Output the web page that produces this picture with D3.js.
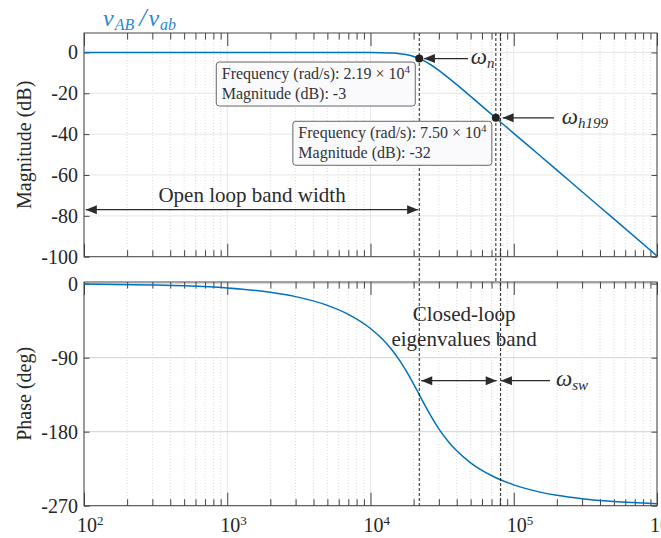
<!DOCTYPE html>
<html>
<head>
<meta charset="utf-8">
<script src="https://d3js.org/d3.v7.min.js"></script>
<title>Bode plot vAB / vab</title>
<style>
  body { margin: 0; background: #fff; }
  svg { display: block; font-family: "Liberation Serif", "Times New Roman", serif; }
  .tick line { stroke: #444; }
  .tick text { fill: #262626; font-size: 20px; font-family: "Liberation Serif", "Times New Roman", serif; }
  .domain { display: none; }
  .axis-label { fill: #262626; font-size: 20px; }
  .tip text { fill: #333; font-size: 16px; }
  .note { fill: #2b2b2b; font-size: 21px; }
  .omega { fill: #2b2b2b; font-style: italic; }
</style>
</head>
<body>
<svg width="661" height="538"></svg>
<script>
// values
const freqs    = [1e2, 3e2, 5e2, 1e3, 2e3, 3e3, 5e3, 7e3, 1e4, 1.2e4, 1.4e4, 1.6e4, 1.8e4, 2e4, 2.19e4, 2.4e4, 2.6e4, 3e4, 3.5e4, 4e4, 5e4, 6e4, 7.5e4, 1e5, 1.5e5, 2e5, 3e5, 5e5, 1e6];
const magDb    = [0, 0, 0, 0, 0, 0, 0, -0.01, -0.04, -0.12, -0.29, -0.61, -1.17, -1.99, -3.0, -4.37, -5.8, -8.8, -12.5, -15.8, -21.5, -26.3, -32.1, -39.6, -50.1, -57.6, -68.2, -81.5, -99.6];
const phaseDeg = [-0.5, -1.6, -2.6, -5.2, -10.5, -15.8, -26.4, -37.3, -54.5, -66.8, -79.8, -93.6, -107.9, -122.1, -135, -148, -158.9, -176.5, -192.2, -203.3, -217.9, -227.1, -236, -244.7, -253.2, -257.4, -261.6, -265, -267.5];

const magTicks = [0, -20, -40, -60, -80, -100];
const phaseTicks = [0, -90, -180, -270];
const decades = [1e2, 1e3, 1e4, 1e5, 1e6];
const decadeExp = [2, 3, 4, 5, 6];

// data tips
const tipFreqs = [2.19e4, 7.5e4];
const tipMags = [-3, -32];
const tipFreqText = ['2.19 \u00d7 10', '7.50 \u00d7 10'];

// marker frequencies: omega_n, omega_h199, omega_sw
const markerFreqs = [2.19e4, 7.5e4, 8.1e4];

const svg = d3.select('svg');
const left = 84, right = 657;
const magTop = 33, magBottom = 256.7;
const phTop = 282, phBottom = 505.7;

const x = d3.scaleLog().domain([1e2, 1e6]).range([left, right]);
const yMag = d3.scaleLinear().domain([-100, 9.5]).range([magBottom, magTop]);
const yPh = d3.scaleLinear().domain([-270, 2]).range([phBottom, phTop]);

const minor = [];
for (let k = 2; k < 6; k++) for (let m = 2; m < 10; m++) minor.push(m * Math.pow(10, k));

function panel(y, ticks, top, bottom, gridColor, label, id) {
  const g = svg.append('g');
  // grid
  g.selectAll('.vmin').data(minor).enter().append('line')
    .attr('x1', d => x(d)).attr('x2', d => x(d)).attr('y1', top).attr('y2', bottom)
    .attr('stroke', '#dadada').attr('stroke-dasharray', '1,2');
  g.selectAll('.vmaj').data(decades).enter().append('line')
    .attr('x1', d => x(d)).attr('x2', d => x(d)).attr('y1', top).attr('y2', bottom)
    .attr('stroke', '#e6e6e6');
  g.selectAll('.hmaj').data(ticks).enter().append('line')
    .attr('x1', left).attr('x2', right).attr('y1', d => y(d)).attr('y2', d => y(d))
    .attr('stroke', gridColor);

  // axes, ticks pointing inward
  g.append('g').attr('transform', `translate(0,${bottom})`)
    .call(d3.axisBottom(x).tickValues(minor).tickSize(-6.5).tickFormat(''));
  g.append('g').attr('transform', `translate(0,${bottom})`)
    .call(d3.axisBottom(x).tickValues(decades).tickSize(-13).tickFormat(''));
  g.append('g').attr('transform', `translate(0,${top})`)
    .call(d3.axisTop(x).tickValues(minor).tickSize(-6.5).tickFormat(''));
  g.append('g').attr('transform', `translate(0,${top})`)
    .call(d3.axisTop(x).tickValues(decades).tickSize(-13).tickFormat(''));
  g.append('g').attr('transform', `translate(${left},0)`)
    .call(d3.axisLeft(y).tickValues(ticks).tickSize(-5.5).tickPadding(6).tickFormat(d => String(d)));
  g.append('g').attr('transform', `translate(${right},0)`)
    .call(d3.axisRight(y).tickValues(ticks).tickSize(-5.5).tickFormat(''));

  g.append('rect')
    .attr('x', left).attr('y', top).attr('width', right - left).attr('height', bottom - top)
    .attr('fill', 'none').attr('stroke', '#444');

  svg.append('clipPath').attr('id', id)
    .append('rect').attr('x', left).attr('y', top).attr('width', right - left).attr('height', bottom - top);

  svg.append('text')
    .attr('class', 'axis-label')
    .attr('transform', `translate(31,${(top + bottom) / 2}) rotate(-90)`)
    .attr('text-anchor', 'middle')
    .text(label);
  return g;
}

panel(yMag, magTicks, magTop, magBottom, '#e6e6e6', 'Magnitude (dB)', 'clipMag');
panel(yPh, phaseTicks, phTop, phBottom, '#d2d2d2', 'Phase (deg)', 'clipPh');

// x tick labels 10^k
const xl = svg.append('g');
decades.forEach((d, i) => {
  const t = xl.append('text').attr('x', x(d) - 7).attr('y', 532)
    .attr('fill', '#262626').style('font-size', '20px');
  t.append('tspan').text('10');
  t.append('tspan').attr('dy', -7).style('font-size', '13px').text(decadeExp[i]);
});

// curves
const pts = freqs.map((f, i) => ({ f: f, m: magDb[i], p: phaseDeg[i] }));
svg.append('path').datum(pts)
  .attr('clip-path', 'url(#clipMag)')
  .attr('fill', 'none').attr('stroke', '#0072BD').attr('stroke-width', 1.5)
  .attr('d', d3.line().x(d => x(d.f)).y(d => yMag(d.m)).curve(d3.curveMonotoneX));
svg.append('path').datum(pts)
  .attr('clip-path', 'url(#clipPh)')
  .attr('fill', 'none').attr('stroke', '#0072BD').attr('stroke-width', 1.5)
  .attr('d', d3.line().x(d => x(d.f)).y(d => yPh(d.p)).curve(d3.curveMonotoneX));

// dashed marker lines
const dash = svg.append('g').attr('stroke', '#222').attr('stroke-width', 1).attr('stroke-dasharray', '3,2');
dash.append('line').attr('x1', x(markerFreqs[0])).attr('x2', x(markerFreqs[0])).attr('y1', magTop).attr('y2', phBottom);
dash.append('line').attr('x1', x(markerFreqs[1])).attr('x2', x(markerFreqs[1])).attr('y1', magTop).attr('y2', phTop);
dash.append('line').attr('x1', x(markerFreqs[2])).attr('x2', x(markerFreqs[2])).attr('y1', magTop).attr('y2', phBottom);

// arrow helper (heads given as list of 'start'/'end')
function arrow(x1, x2, yy, heads) {
  const g = svg.append('g');
  g.append('line').attr('x1', x1).attr('x2', x2).attr('y1', yy).attr('y2', yy)
    .attr('stroke', '#2b2b2b').attr('stroke-width', 1.2);
  const head = (tip, dir) => g.append('path')
    .attr('d', `M${tip},${yy} L${tip + dir * 11},${yy - 4.5} L${tip + dir * 11},${yy + 4.5} Z`)
    .attr('fill', '#2b2b2b');
  if (heads.includes('start')) head(x1, x1 < x2 ? 1 : -1);
  if (heads.includes('end')) head(x2, x2 < x1 ? 1 : -1);
}

function omega(xx, yy, sub) {
  const t = svg.append('text').attr('class', 'omega').attr('x', xx).attr('y', yy).style('font-size', '23px');
  t.append('tspan').text('\u03c9');
  t.append('tspan').attr('dy', 4).style('font-size', '15px').text(sub);
}

// omega_n
arrow(x(4.8e4), x(2.36e4), yMag(-3), ['end']);
omega(x(5.0e4), yMag(-5.7), 'n');
// omega_h199
arrow(x(1.91e5), x(8.36e4), yMag(-32), ['end']);
omega(x(2.16e5), yMag(-34.8), 'h199');
// omega_sw
arrow(x(1.79e5), x(8.14e4), yPh(-118), ['end']);
omega(x(1.97e5), yPh(-124.5), 'sw');
// closed-loop band
arrow(x(2.26e4), x(7.6e4), yPh(-118), ['start', 'end']);
svg.append('text').attr('class', 'note').attr('text-anchor', 'middle')
  .attr('x', x(4.5e4)).attr('y', yPh(-45)).text('Closed-loop');
svg.append('text').attr('class', 'note').attr('text-anchor', 'middle')
  .attr('x', x(4.5e4)).attr('y', yPh(-76)).text('eigenvalues band');
// open loop band width
arrow(x(1.03e2), x(2.15e4), yMag(-77), ['start', 'end']);
svg.append('text').attr('class', 'note').attr('text-anchor', 'middle')
  .attr('x', x(1.49e3)).attr('y', yMag(-73.1)).text('Open loop band width');

// data tips
tipFreqs.forEach((f, i) => {
  const px = x(f), py = yMag(tipMags[i]);
  const g = svg.append('g').attr('class', 'tip')
    .attr('transform', `translate(${px - 4 - 199},${py + 3.5})`);
  g.append('rect').attr('width', 199).attr('height', 44).attr('rx', 3)
    .attr('fill', '#fafafd').attr('stroke', '#666').attr('stroke-width', 1);
  const t1 = g.append('text').attr('x', 5.5).attr('y', 16.5);
  t1.append('tspan').text('Frequency (rad/s): ' + tipFreqText[i]);
  t1.append('tspan').attr('dy', -6).style('font-size', '11px').text('4');
  g.append('text').attr('x', 5.5).attr('y', 37).text('Magnitude (dB): ' + tipMags[i]);
  svg.append('circle').attr('cx', px).attr('cy', py).attr('r', 4).attr('fill', '#222');
});

// title
const title = svg.append('text').attr('x', 103).attr('y', 26).attr('fill', '#2a86d0')
  .style('font-style', 'italic').style('font-size', '24px');
title.append('tspan').text('v');
title.append('tspan').attr('dy', 4).attr('dx', 1).style('font-size', '16px').text('AB');
title.append('tspan').attr('dy', -4).attr('dx', 5).style('font-size', '26px').text('/');
title.append('tspan').attr('dx', 2).text('v');
title.append('tspan').attr('dy', 4).attr('dx', 1).style('font-size', '16px').text('ab');
</script>
</body>
</html>
